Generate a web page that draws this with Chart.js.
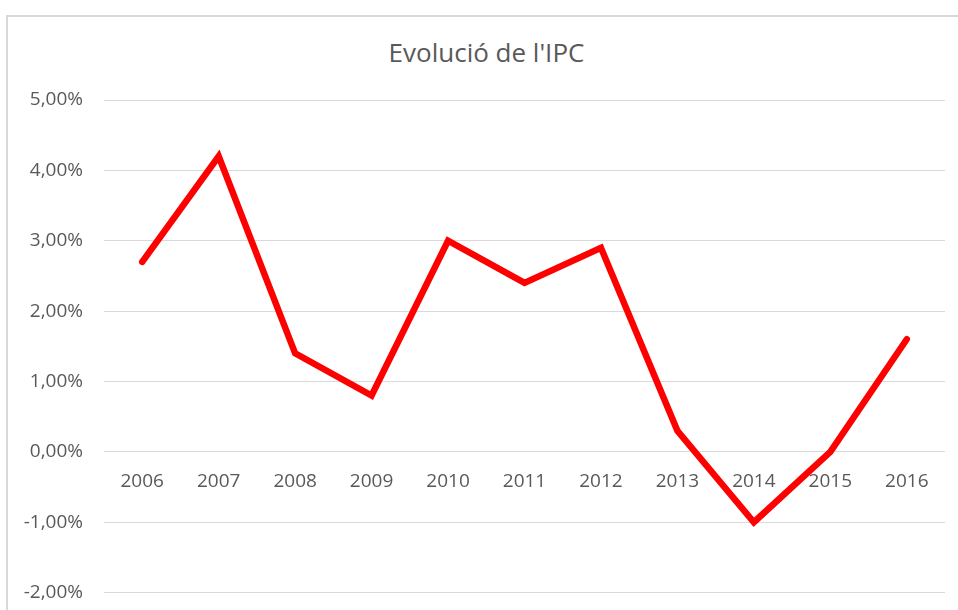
<!DOCTYPE html>
<html>
<head>
<meta charset="utf-8">
<script src="https://cdn.jsdelivr.net/npm/chart.js@4/dist/chart.umd.min.js"></script>
<style>
  body { margin: 0; background: #fff; }
  #wrap { position: relative; width: 958px; height: 610px; overflow: hidden; }
  #frame {
    position: absolute; left: 6px; top: 15px; width: 980px; height: 620px;
    border-left: 2px solid #d9d9d9; border-top: 2px solid #d9d9d9;
  }
  #title {
    position: absolute; left: 0; top: 39px; width: 973px;
    text-align: center; color: #595959;
    font: 26px/26px 'Open Sans', sans-serif;
  }
  canvas { position: absolute; left: 0; top: 0; }
</style>
</head>
<body>
<div id="wrap">
  <div id="frame"></div>
  <div id="title">Evolució de l'IPC</div>
  <!-- a bit taller than the window: the x axis at y=0 reserves room at the bottom -->
  <canvas id="chart" width="958" height="625"></canvas>
</div>
<script>
const years = ['2006', '2007', '2008', '2009', '2010', '2011', '2012', '2013', '2014', '2015', '2016'];
const ipc = [2.7, 4.2, 1.4, 0.8, 3.0, 2.4, 2.9, 0.3, -1.0, 0.0, 1.6];
const yTicks = [-2, -1, 0, 1, 2, 3, 4, 5];

const textColor = '#595959';
const gridColor = '#d9d9d9';
const fontFamily = "'Open Sans', sans-serif";

const ctx = document.getElementById('chart').getContext('2d');

new Chart(ctx, {
    type: 'line',
    data: {
        labels: years,
        datasets: [{
            label: "IPC",
            data: ipc,
            borderColor: '#ff0000',
            borderWidth: 6.5,
            borderCapStyle: 'round',
            borderJoinStyle: 'miter',
            pointRadius: 0,
            fill: false,
            tension: 0
        }]
    },
    options: {
        responsive: false,
        animation: false,
        layout: {
            padding: { top: 100, right: 13, bottom: 19, left: 0 }
        },
        plugins: {
            legend: { display: false },
            tooltip: { enabled: false },
            title: { display: false }
        },
        scales: {
            x: {
                type: 'category',
                position: { y: 0 },
                offset: true,
                grid: { display: false, drawTicks: false },
                border: { display: false },
                ticks: {
                    color: textColor,
                    font: { family: fontFamily, size: 19 },
                    padding: 18,
                    maxRotation: 0
                }
            },
            y: {
                min: yTicks[0],
                max: yTicks[yTicks.length - 1],
                afterBuildTicks: scale => {
                    scale.ticks = yTicks.map(v => ({ value: v }));
                },
                afterFit: scale => {
                    scale.width = 104;
                },
                grid: { color: gridColor, lineWidth: 1, drawTicks: false },
                border: { display: false },
                ticks: {
                    color: textColor,
                    font: { family: fontFamily, size: 19 },
                    padding: 21,
                    callback: v => v.toFixed(2).replace('.', ',') + '%'
                }
            }
        }
    }
});
</script>
</body>
</html>
